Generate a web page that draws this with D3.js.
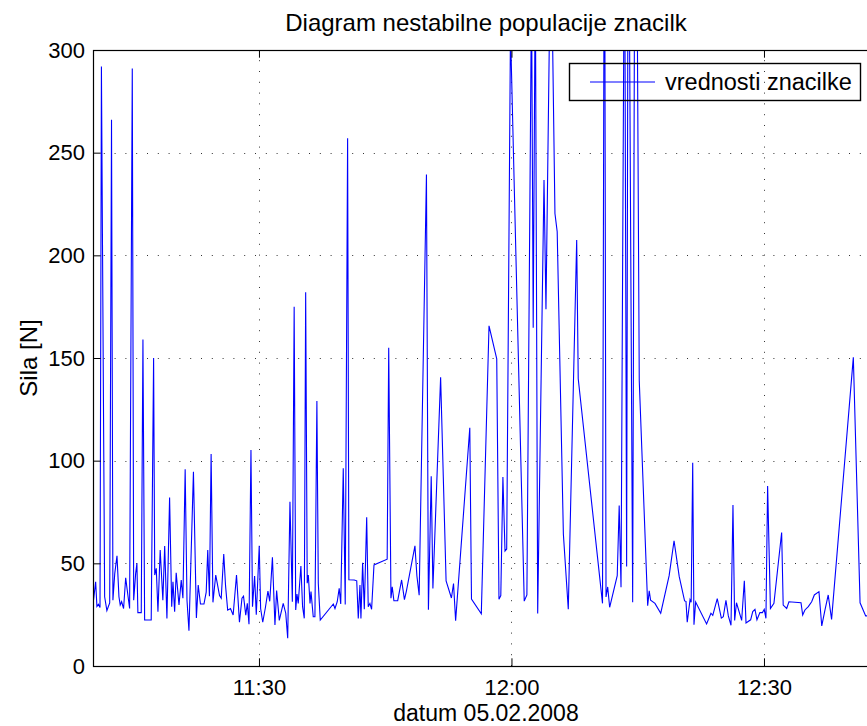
<!DOCTYPE html>
<html>
<head>
<meta charset="utf-8">
<script src="https://cdn.jsdelivr.net/npm/d3@7"></script>
<style>
  html, body { margin: 0; padding: 0; background: #fff; }
  svg { display: block; font-family: "Liberation Sans", Arial, Helvetica, sans-serif; }
</style>
</head>
<body>
<svg id="chart" width="867" height="726"></svg>
<script>
// Measurement day and sample times (minutes after 11:00)
const measurementDay = [2008, 1, 5];
const sampleMinute = [
  10.28, 10.60, 10.75, 10.93, 11.11, 11.29, 11.67, 11.94, 12.26, 12.48,
  12.65, 12.86, 13.13, 13.37, 13.52, 13.69, 13.92, 14.16, 14.35, 14.64,
  14.95, 15.11, 15.35, 15.50, 15.62, 16.02, 16.22, 16.42, 17.20, 17.49,
  17.61, 17.80, 18.00, 18.27, 18.59, 18.80, 19.07, 19.39, 19.63, 19.78,
  19.98, 20.17, 20.50, 20.77, 20.97, 21.24, 21.45, 21.68, 22.22, 22.57,
  22.79, 23.05, 23.47, 23.73, 23.92, 24.12, 24.32, 24.53, 24.86, 25.31,
  25.51, 25.81, 26.04, 26.29, 26.61, 26.93, 27.33, 27.68, 27.98, 28.16,
  28.43, 28.61, 28.81, 29.05, 29.23, 29.49, 29.68, 30.04, 30.20, 30.45,
  30.77, 31.07, 31.28, 31.60, 31.90, 32.10, 32.41, 32.89, 33.18, 33.41,
  33.68, 33.96, 34.19, 34.36, 34.52, 34.67, 34.99, 35.19, 35.38, 35.55,
  35.74, 35.86, 36.06, 36.18, 36.45, 36.65, 36.89, 37.05, 37.28, 38.83,
  39.03, 39.30, 39.54, 39.71, 40.02, 40.25, 40.54, 40.69, 41.32, 41.61,
  41.80, 42.00, 42.12, 42.32, 42.51, 42.80, 42.99, 43.19, 43.39, 43.66,
  45.24, 45.41, 45.68, 45.84, 46.04, 46.48, 46.95, 47.29, 47.52, 48.53,
  48.77, 49.03, 49.90, 50.14, 50.46, 50.66, 51.59, 52.23, 52.87, 53.12,
  53.36, 55.05, 55.25, 56.41, 57.33, 58.25, 58.51, 58.74, 58.99, 59.23,
  59.44, 59.88, 61.52, 61.84, 62.38, 62.59, 62.83, 63.11, 63.86, 64.10,
  64.69, 65.17, 65.44, 66.16, 66.75, 67.75, 67.94, 70.81, 71.05, 71.23,
  71.43, 71.67, 72.57, 72.80, 73.01, 73.43, 73.69, 73.88, 74.40, 74.73,
  75.18, 76.18, 76.37, 76.54, 77.05, 77.73, 78.74, 79.31, 79.94, 80.56,
  80.73, 80.89, 81.21, 81.35, 81.53, 81.68, 81.89, 83.19, 83.70, 83.91,
  84.45, 84.93, 85.17, 85.49, 85.76, 86.08, 86.32, 86.52, 86.73, 87.35,
  87.66, 87.86, 88.42, 88.66, 88.93, 89.17, 89.52, 89.82, 90.04, 90.24,
  90.44, 90.77, 91.19, 92.10, 92.29, 92.70, 92.97, 94.40, 94.60, 94.87,
  95.26, 95.67, 95.98, 96.53, 96.86, 97.25, 97.64, 98.04, 100.61, 101.41,
  102.08, 102.59
];
// Measured force [N]
const force = [
  30, 41, 29, 30, 28.5, 292, 33.7, 27, 30.7, 266,
  32, 45, 53.7, 33.7, 29.7, 31.3, 28, 43, 37, 28,
  291, 32, 45, 50, 26, 26, 159, 22.4, 22.4, 150,
  44.3, 47.6, 26.4, 56.5, 32, 58.4, 23.2, 82.1, 28.9, 41,
  26.4, 45.4, 29.7, 41.9, 33, 95.8, 32, 17.2, 94.6, 23.4,
  39.4, 30.2, 30.2, 36, 56.5, 34, 103.2, 31, 44.3, 34.3,
  33, 54.5, 39, 27.2, 28, 24.8, 44.3, 21.3, 33, 34,
  24.8, 30.5, 20.3, 105.2, 28.9, 43.8, 25, 58.5, 28, 21.3,
  28.5, 36.5, 31.5, 52.9, 20, 36.7, 22.2, 30.5, 25.7, 13.5,
  80, 31.3, 175, 27.3, 35, 30.5, 48.7, 28.9, 23.2, 182,
  40.3, 44.3, 30.5, 36.2, 24, 24, 129, 40.3, 22.4, 30.2,
  28, 31.3, 37.8, 30.2, 96.3, 30, 257, 42, 41.9, 41.5,
  23.2, 39.4, 23.2, 50.3, 27.6, 72.4, 28.9, 30.5, 27.6, 49.2,
  52, 155, 33, 38.6, 31.8, 31.8, 41.9, 32.3, 36.5, 58.5,
  43.8, 34.5, 239.4, 27.4, 92.4, 37.7, 140.6, 41.4, 33.1, 40.2,
  22.1, 116, 32.6, 25.4, 165.7, 149.6, 32.5, 34.3, 92, 56,
  57, 310, 31.6, 34.6, 330, 164.7, 340, 25.6, 236.7, 173.7,
  365, 220.4, 211.5, 64.3, 27.6, 207.5, 139.9, 30.5, 420, 33.6,
  38.5, 28.6, 44, 78.2, 38.3, 380, 48.5, 420, 31, 480,
  138.9, 29.4, 36.6, 32, 30.5, 25.7, 44, 61, 43.5, 31.7,
  31.5, 21.3, 32.3, 31, 99, 20.1, 31.2, 20.5, 25.7, 24.7,
  32.8, 23.3, 24, 32, 24.4, 19.8, 78.4, 22.2, 30.8, 22.2,
  41.5, 21, 22.5, 26.5, 27.6, 22.5, 26, 26, 27.6, 23.2,
  87.6, 28, 30.5, 65, 29.7, 28, 31.3, 30.8, 24.8, 27.3,
  28.9, 31.3, 34.6, 36.2, 19.5, 27.3, 34.6, 22.7, 150.3, 30.8,
  24.4, 24.5
];
const yTicks = [0, 50, 100, 150, 200, 250, 300];
const xTickLabels = ["11:30", "12:00", "12:30"];
const axisEndMinute = 103.66;

const titleText = "Diagram nestabilne populacije znacilk";
const xLabel = "datum 05.02.2008";
const yLabel = "Sila [N]";
const legendLabel = "vrednosti znacilke";

const atMinute = m => new Date(measurementDay[0], measurementDay[1], measurementDay[2], 11, 0, Math.round(m * 60));
const data = sampleMinute.map((m, i) => ({ t: atMinute(m), v: force[i] }));
const xTickDates = xTickLabels.map(s => {
  const [h, mm] = s.split(":").map(Number);
  return new Date(measurementDay[0], measurementDay[1], measurementDay[2], h, mm);
});

const svg = d3.select("#chart");
const plot = { left: 93, top: 50, right: 879, bottom: 666 };
const tick = 7.7;
const fontTick = 22, fontLabel = 24, fontXLabel = 23, fontLegend = 23.5;

const x = d3.scaleTime()
  .domain([data[0].t, atMinute(axisEndMinute)])
  .range([plot.left, plot.right]);
const y = d3.scaleLinear().domain([0, 300]).range([plot.bottom, plot.top]);

svg.append("defs").append("clipPath").attr("id", "plotClip")
  .append("rect")
  .attr("x", plot.left).attr("y", plot.top)
  .attr("width", plot.right - plot.left).attr("height", plot.bottom - plot.top);

// dotted grid
const grid = svg.append("g").attr("stroke", "#333").attr("stroke-width", 1)
  .attr("stroke-dasharray", "1,9.8");
grid.selectAll("line.h").data(yTicks.filter(v => v > 0 && v < 300)).join("line")
  .attr("class", "h")
  .attr("x1", plot.left).attr("x2", plot.right)
  .attr("y1", d => Math.round(y(d)) + 0.5).attr("y2", d => Math.round(y(d)) + 0.5);
grid.selectAll("line.v").data(xTickDates).join("line")
  .attr("class", "v")
  .attr("x1", d => Math.round(x(d)) + 0.5).attr("x2", d => Math.round(x(d)) + 0.5)
  .attr("y1", plot.bottom).attr("y2", plot.top);

// data line
svg.append("path")
  .datum(data)
  .attr("clip-path", "url(#plotClip)")
  .attr("fill", "none")
  .attr("stroke", "#0000ff")
  .attr("stroke-width", 1.1)
  .attr("stroke-linejoin", "miter")
  .attr("d", d3.line().x(d => x(d.t)).y(d => y(d.v)));

// axes (ticks inward, box around the plot)
const styleAxis = g => {
  g.selectAll(".domain").remove();
  g.selectAll(".tick line").attr("stroke", "#000").attr("stroke-width", 1);
  g.selectAll(".tick text").attr("fill", "#000").attr("font-size", fontTick)
    .attr("font-family", "Liberation Sans, Arial, Helvetica, sans-serif");
};

svg.append("g")
  .attr("transform", `translate(${plot.left},0)`)
  .call(d3.axisLeft(y).tickValues(yTicks).tickSizeInner(-tick).tickSizeOuter(0).tickPadding(8))
  .call(styleAxis);

svg.append("g")
  .attr("transform", `translate(0,${plot.bottom})`)
  .call(d3.axisBottom(x).tickValues(xTickDates).tickFormat(d3.timeFormat("%H:%M"))
    .tickSizeInner(-tick).tickSizeOuter(0).tickPadding(13.5))
  .call(styleAxis);

svg.append("g")
  .attr("transform", `translate(0,${plot.top})`)
  .call(d3.axisTop(x).tickValues(xTickDates).tickFormat("").tickSizeInner(-tick).tickSizeOuter(0))
  .call(styleAxis);

svg.append("g")
  .attr("transform", `translate(${plot.right},0)`)
  .call(d3.axisRight(y).tickValues(yTicks).tickFormat("").tickSizeInner(-tick).tickSizeOuter(0))
  .call(styleAxis);

svg.append("rect")
  .attr("x", plot.left + 0.5).attr("y", plot.top + 0.5)
  .attr("width", plot.right - plot.left).attr("height", plot.bottom - plot.top)
  .attr("fill", "none").attr("stroke", "#000").attr("stroke-width", 1.2);

// titles
const cx = (plot.left + plot.right) / 2;
svg.append("text").attr("x", cx).attr("y", 31).attr("text-anchor", "middle")
  .attr("font-size", fontLabel).attr("fill", "#000").text(titleText);
svg.append("text").attr("x", cx).attr("y", 721).attr("text-anchor", "middle")
  .attr("font-size", fontXLabel).attr("fill", "#000").text(xLabel);
svg.append("text").attr("transform", `translate(37,${(plot.top + plot.bottom) / 2}) rotate(-90)`)
  .attr("text-anchor", "middle").attr("font-size", fontLabel).attr("fill", "#000").text(yLabel);

// legend
const lg = svg.append("g");
lg.append("rect").attr("x", 569.5).attr("y", 63.5).attr("width", 291).attr("height", 37)
  .attr("fill", "none").attr("stroke", "#000").attr("stroke-width", 1.4);
lg.append("line").attr("x1", 590).attr("x2", 655).attr("y1", 82).attr("y2", 82)
  .attr("stroke", "#0000ff").attr("stroke-width", 1.1);
lg.append("text").attr("x", 665).attr("y", 90).attr("font-size", fontLegend)
  .attr("fill", "#000").text(legendLabel);
</script>
</body>
</html>
